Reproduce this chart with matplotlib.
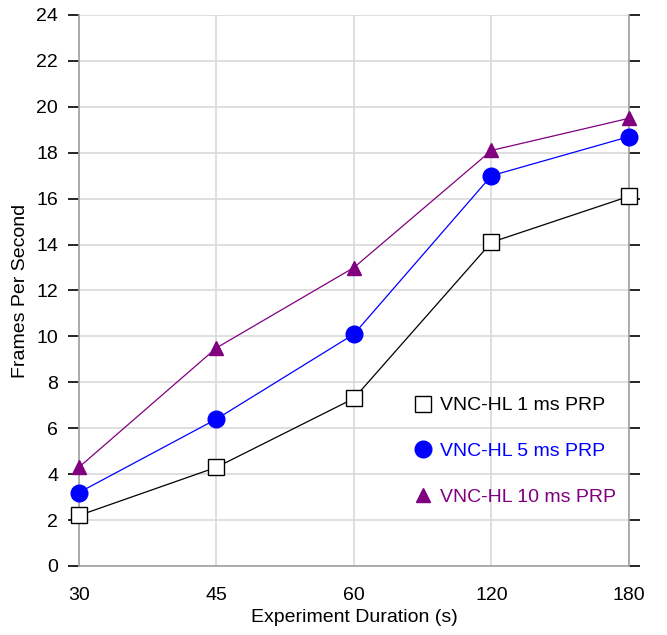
import matplotlib
matplotlib.use("Agg")
import matplotlib.pyplot as plt
from matplotlib.lines import Line2D

plt.rcParams["font.family"] = ["Liberation Sans", "DejaVu Sans"]

durations = ["30", "45", "60", "120", "180"]
fps_1ms = [2.2, 4.3, 7.3, 14.1, 16.1]
fps_5ms = [3.2, 6.4, 10.1, 17.0, 18.7]
fps_10ms = [4.3, 9.5, 13.0, 18.1, 19.5]

labels = ["VNC-HL 1 ms PRP", "VNC-HL 5 ms PRP", "VNC-HL 10 ms PRP"]
colors = ["black", "blue", "purple"]

fig = plt.figure(figsize=(6.67, 6.35), dpi=100)
ax = fig.add_axes([0.1184, 0.1087, 0.8246, 0.8677])

x = list(range(len(durations)))
ax.plot(x, fps_1ms, color="black", lw=0.9, marker="s", ms=12,
        mfc="white", mec="black", mew=1.0, zorder=3, clip_on=False)
ax.plot(x, fps_5ms, color="blue", lw=0.9, marker="o", ms=12,
        mfc="blue", mec="blue", zorder=3, clip_on=False)
ax.plot(x, fps_10ms, color="purple", lw=0.9, marker="^", ms=10,
        mfc="purple", mec="purple", zorder=3, clip_on=False)

ax.set_xlim(0, len(durations) - 1)
ax.set_ylim(0, 24)
ax.set_yticks(range(0, 25, 2))
ax.set_xticks(x)
ax.set_xticklabels(durations)
ax.set_xticks([0, len(durations) - 1], minor=True)

ax.grid(True, color="#d9d9d9", lw=1.2)
ax.set_axisbelow(True)

for side in ["left", "right", "bottom"]:
    ax.spines[side].set_color("#a0a0a0")
    ax.spines[side].set_linewidth(1.2)
ax.spines["top"].set_visible(False)

# tick lengths in points: ~11 px and ~10 px at 100 dpi
ax.tick_params(axis="y", which="major", direction="out", length=8, width=1.2,
               color="black", left=True, right=True, labelsize=14, pad=7)
ax.tick_params(axis="x", which="major", length=0, labelsize=14, pad=15)
ax.tick_params(axis="x", which="minor", direction="out", length=7.2, width=1.2,
               color="black", top=True, bottom=True)

ax.set_xlabel("Experiment Duration (s)", fontsize=14, labelpad=4)
ax.set_ylabel("Frames Per Second", fontsize=14, labelpad=5)

handles = [
    Line2D([], [], ls="none", marker="s", ms=12, mfc="white", mec="black"),
    Line2D([], [], ls="none", marker="o", ms=12, mfc="blue", mec="blue"),
    Line2D([], [], ls="none", marker="^", ms=10, mfc="purple", mec="purple"),
]
leg = ax.legend(handles, labels, loc="lower right", bbox_to_anchor=(1.008, 0.077),
                frameon=False, fontsize=14, handletextpad=0.25,
                labelspacing=1.45, handlelength=1.2)
for txt, c in zip(leg.get_texts(), colors):
    txt.set_color(c)

fig.savefig("out.png", dpi=100)
